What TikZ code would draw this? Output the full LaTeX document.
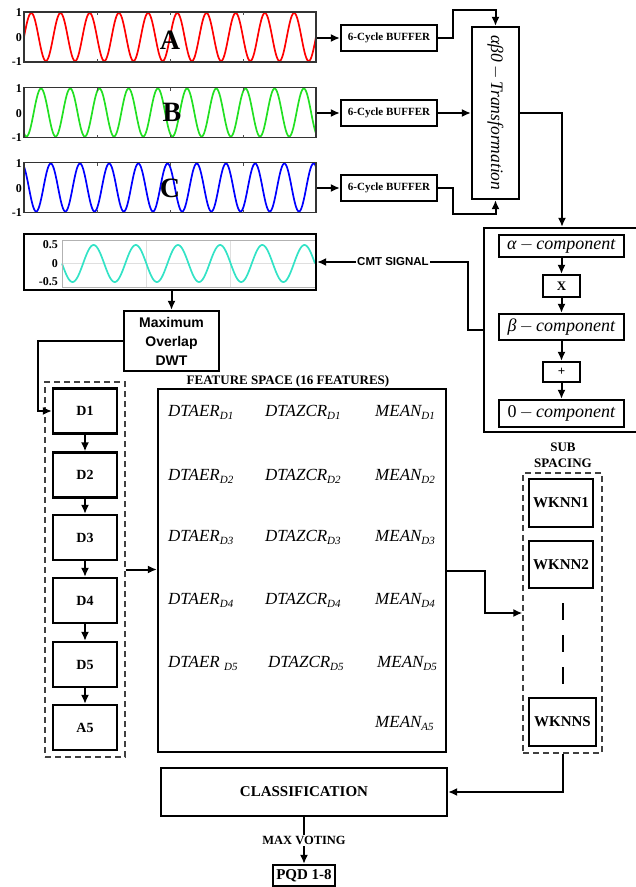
\documentclass[tikz,border=0pt]{standalone}
\usepackage{fontspec}
\setmainfont{Liberation Serif}
\setsansfont{Liberation Sans}
\usetikzlibrary{arrows.meta,positioning,calc}
\definecolor{phA}{HTML}{FF0000}
\definecolor{phB}{HTML}{22E022}
\definecolor{phC}{HTML}{0000FF}
\definecolor{cmtCol}{HTML}{33E3C6}
\newcommand{\fsz}[1]{\fontsize{#1}{#1}\selectfont}
\newcommand{\sbs}[1]{\raisebox{-0.4ex}{\fsz{11}#1}}

\begin{document}
\begin{tikzpicture}[x=1pt,y=-1pt,
    blk/.style={draw,line width=2.2pt,inner sep=0pt,font=\fsz{11}\bfseries},
    grp/.style={draw=black!75,line width=1.3pt,dash pattern=on 6pt off 4pt,inner sep=0pt},
    plotfrm/.style={draw=black!80,line width=1.6pt,inner sep=0pt},
    arr/.style={line width=2pt,-{Latex[length=9pt,width=8pt]}},
    ln/.style={line width=2pt},
    wave/.style={line width=1.7pt},
    axlbl/.style={font=\fsz{12}\bfseries,anchor=east,inner sep=1pt},
    phlbl/.style={font=\fsz{28}\bfseries,inner sep=0pt},
    ftr/.style={font=\fsz{17}\itshape,anchor=west,inner sep=0pt},
    cmp/.style={blk,font=\fsz{18},minimum width=125}
]
    \useasboundingbox (0,0) rectangle (636,887);

    % Phase signals (10 cycles over the frame)
    \draw[wave,phA] plot[domain=0:292,samples=400] ({24+\x},{37-24*sin(\x*12.3288)});
    \draw[wave,phB] plot[domain=0:292,samples=400] ({24+\x},{112.5-24*sin(\x*12.3288-120)});
    \draw[wave,phC] plot[domain=0:292,samples=400] ({24+\x},{187.5-24*sin(\x*12.3288+120)});
    \node[plotfrm,minimum width=292,minimum height=50] (plotA) at (170,37) {};
    \node[plotfrm,minimum width=292,minimum height=50] (plotB) at (170,112.5) {};
    \node[plotfrm,minimum width=292,minimum height=50] (plotC) at (170,187.5) {};
    \foreach \yc in {37,112.5,187.5}{
        \foreach \xt in {97,170,243}{
            \draw[black!70,line width=0.8pt] (\xt,\yc-25) -- ++(0,3);
            \draw[black!70,line width=0.8pt] (\xt,\yc+25) -- ++(0,-3);
        }
        \node[axlbl] at (23,\yc-24) {1};
        \node[axlbl] at (23,\yc+1) {0};
        \node[axlbl] at (23,\yc+25) {-1};
    }
    \node[phlbl] at (170,40) {A};
    \node[phlbl] at (172,112) {B};
    \node[phlbl] at (170,188) {C};

    % Buffers and transformation
    \node[blk,minimum width=96,minimum height=26] (bufA) at (389,38) {6-Cycle BUFFER};
    \node[blk,minimum width=96,minimum height=26] (bufB) at (389,113) {6-Cycle BUFFER};
    \node[blk,minimum width=96,minimum height=26] (bufC) at (389,188) {6-Cycle BUFFER};
    \node[blk,minimum width=47,minimum height=172] (abz) at (495.5,113) {};
    \node[rotate=-90,font=\fsz{17.5}\itshape] at (abz.center) {αβ0\,$-$\,Transformation};

    \draw[arr] (plotA.east |- bufA.west) -- (bufA.west);
    \draw[arr] (plotB.east |- bufB.west) -- (bufB.west);
    \draw[arr] (plotC.east |- bufC.west) -- (bufC.west);
    \draw[arr] (bufA.east) -- ++(15,0) |- ([yshift=16pt]abz.north) -- (abz.north);
    \draw[arr] (bufB.east) -- (abz.west);
    \draw[arr] (bufC.east) -- ++(15,0) |- ([yshift=-14pt]abz.south) -- (abz.south);

    % Components
    \node[blk,minimum width=156,minimum height=204] (compbox) at (562,330) {};
    \node[cmp,minimum height=22] (alpha) at (561.5,246) {\textit{α}\,$-$\,\textit{component}};
    \node[blk,font=\fsz{13}\bfseries,minimum width=37,minimum height=22] (mulx) at (561.5,286) {X};
    \node[cmp,minimum height=26] (beta) at (561.5,327) {\textit{β}\,$-$\,\textit{component}};
    \node[blk,font=\fsz{13}\bfseries,minimum width=37,minimum height=20] (plusb) at (561.5,372) {+};
    \node[cmp,minimum height=27] (zero) at (561.5,413.5) {0\,$-$\,\textit{component}};
    \draw[arr] (abz.east) -| (compbox.north);
    \draw[arr] (alpha) -- (mulx);
    \draw[arr] (mulx) -- (beta);
    \draw[arr] (beta) -- (plusb);
    \draw[arr] (plusb) -- (zero);

    % CMT signal
    \draw[gray!25,line width=0.6pt] (62,263.5) -- (315,263.5) (146,240) -- (146,287) (230,240) -- (230,287);
    \draw[wave,cmtCol] plot[domain=0:253,samples=300] ({62+\x},{263.5+18.5*sin(\x*8.537)});
    \draw[gray!60,line width=0.6pt] (62,240) rectangle (315,287);
    \node[plotfrm,draw=black,line width=2.2pt,minimum width=292,minimum height=56] (cmt) at (170,262) {};
    \node[axlbl] at (59,245) {0.5};
    \node[axlbl] at (59,263.5) {0};
    \node[axlbl] at (59,282) {-0.5};
    \node[font=\fsz{11.5}\sffamily\bfseries,inner sep=1pt] (cmtlbl) at (393,262) {CMT SIGNAL};
    \draw[ln] (compbox.west) -- ++(-15,0) |- (cmtlbl.east);
    \draw[arr] (cmtlbl.west) -- (cmt.east);

    % MODWT and levels
    \node[blk,font=\fontsize{14}{19}\selectfont\sffamily\bfseries,align=center,minimum width=95,minimum height=60] (modwt) at (171.5,341) {Maximum\\Overlap\\DWT};
    \draw[arr] (modwt.north |- cmt.south) -- (modwt.north);

    \node[grp,minimum width=80,minimum height=375] (dgrp) at (85,569.5) {};
    \foreach \n/\t/\yy in {dOne/D1/411,dTwo/D2/475,dThree/D3/537.5,dFour/D4/600.5,dFive/D5/664.5,aFive/A5/727.5}
        \node[blk,font=\fsz{14}\bfseries,minimum width=64,minimum height=45] (\n) at (85,\yy) {\t};
    \foreach \a/\b in {dOne/dTwo,dTwo/dThree,dThree/dFour,dFour/dFive,dFive/aFive}
        \draw[arr] (\a) -- (\b);
    \draw[arr] (modwt.west) -- ++(-85,0) |- (dOne.west);

    % Feature space
    \node[blk,minimum width=288,minimum height=363] (feat) at (302,570.5) {};
    \node[font=\fsz{13}\bfseries,inner sep=1pt] (featttl) at (288,381) {FEATURE SPACE (16 FEATURES)};
    \foreach \r/\yy in {1/412,2/476,3/537,4/600}{
        \node[ftr] at (168,\yy) {DTAER\sbs{D\r}};
        \node[ftr] at (265,\yy) {DTAZCR\sbs{D\r}};
        \node[ftr] at (375,\yy) {MEAN\sbs{D\r}};
    }
    \node[ftr] at (168,663) {DTAER \sbs{D5}};
    \node[ftr] at (268,663) {DTAZCR\sbs{D5}};
    \node[ftr] at (377,663) {MEAN\sbs{D5}};
    \node[ftr] at (375,723) {MEAN\sbs{A5}};
    \draw[arr] (dgrp.east) -- (dgrp.east -| feat.west);

    % Sub spacing
    \node[font=\fontsize{13}{16}\selectfont\bfseries,align=center,inner sep=0pt] (subttl) at (563,455) {SUB\\SPACING};
    \node[grp,minimum width=79,minimum height=280] (subgrp) at (562.5,613) {};
    \node[blk,font=\fsz{15}\bfseries,minimum width=64,minimum height=48] (wknnOne) at (561,503) {WKNN1};
    \node[blk,font=\fsz{15}\bfseries,minimum width=64,minimum height=47] (wknnTwo) at (561,564.5) {WKNN2};
    \node[blk,font=\fsz{15}\bfseries,minimum width=67,minimum height=48] (wknnS) at (562.5,722) {WKNNS};
    \draw[line width=2.2pt,dash pattern=on 17pt off 15pt] (563,603) -- (563,684);
    \draw[arr] (feat.east) -- ++(38,0) |- (subgrp.west);

    % Classification
    \node[blk,font=\fsz{15}\bfseries,minimum width=286,minimum height=48] (cls) at (304,792) {CLASSIFICATION};
    \node[blk,font=\fsz{15}\bfseries,minimum width=62,minimum height=21] (pqd) at (304,875.5) {PQD 1-8};
    \draw[arr] (subgrp.south) |- (cls.east);
    \draw[arr] (cls.south) -- node[fill=white,font=\fsz{12.5}\bfseries,inner sep=1pt] {MAX VOTING} (pqd.north);
\end{tikzpicture}
\end{document}
